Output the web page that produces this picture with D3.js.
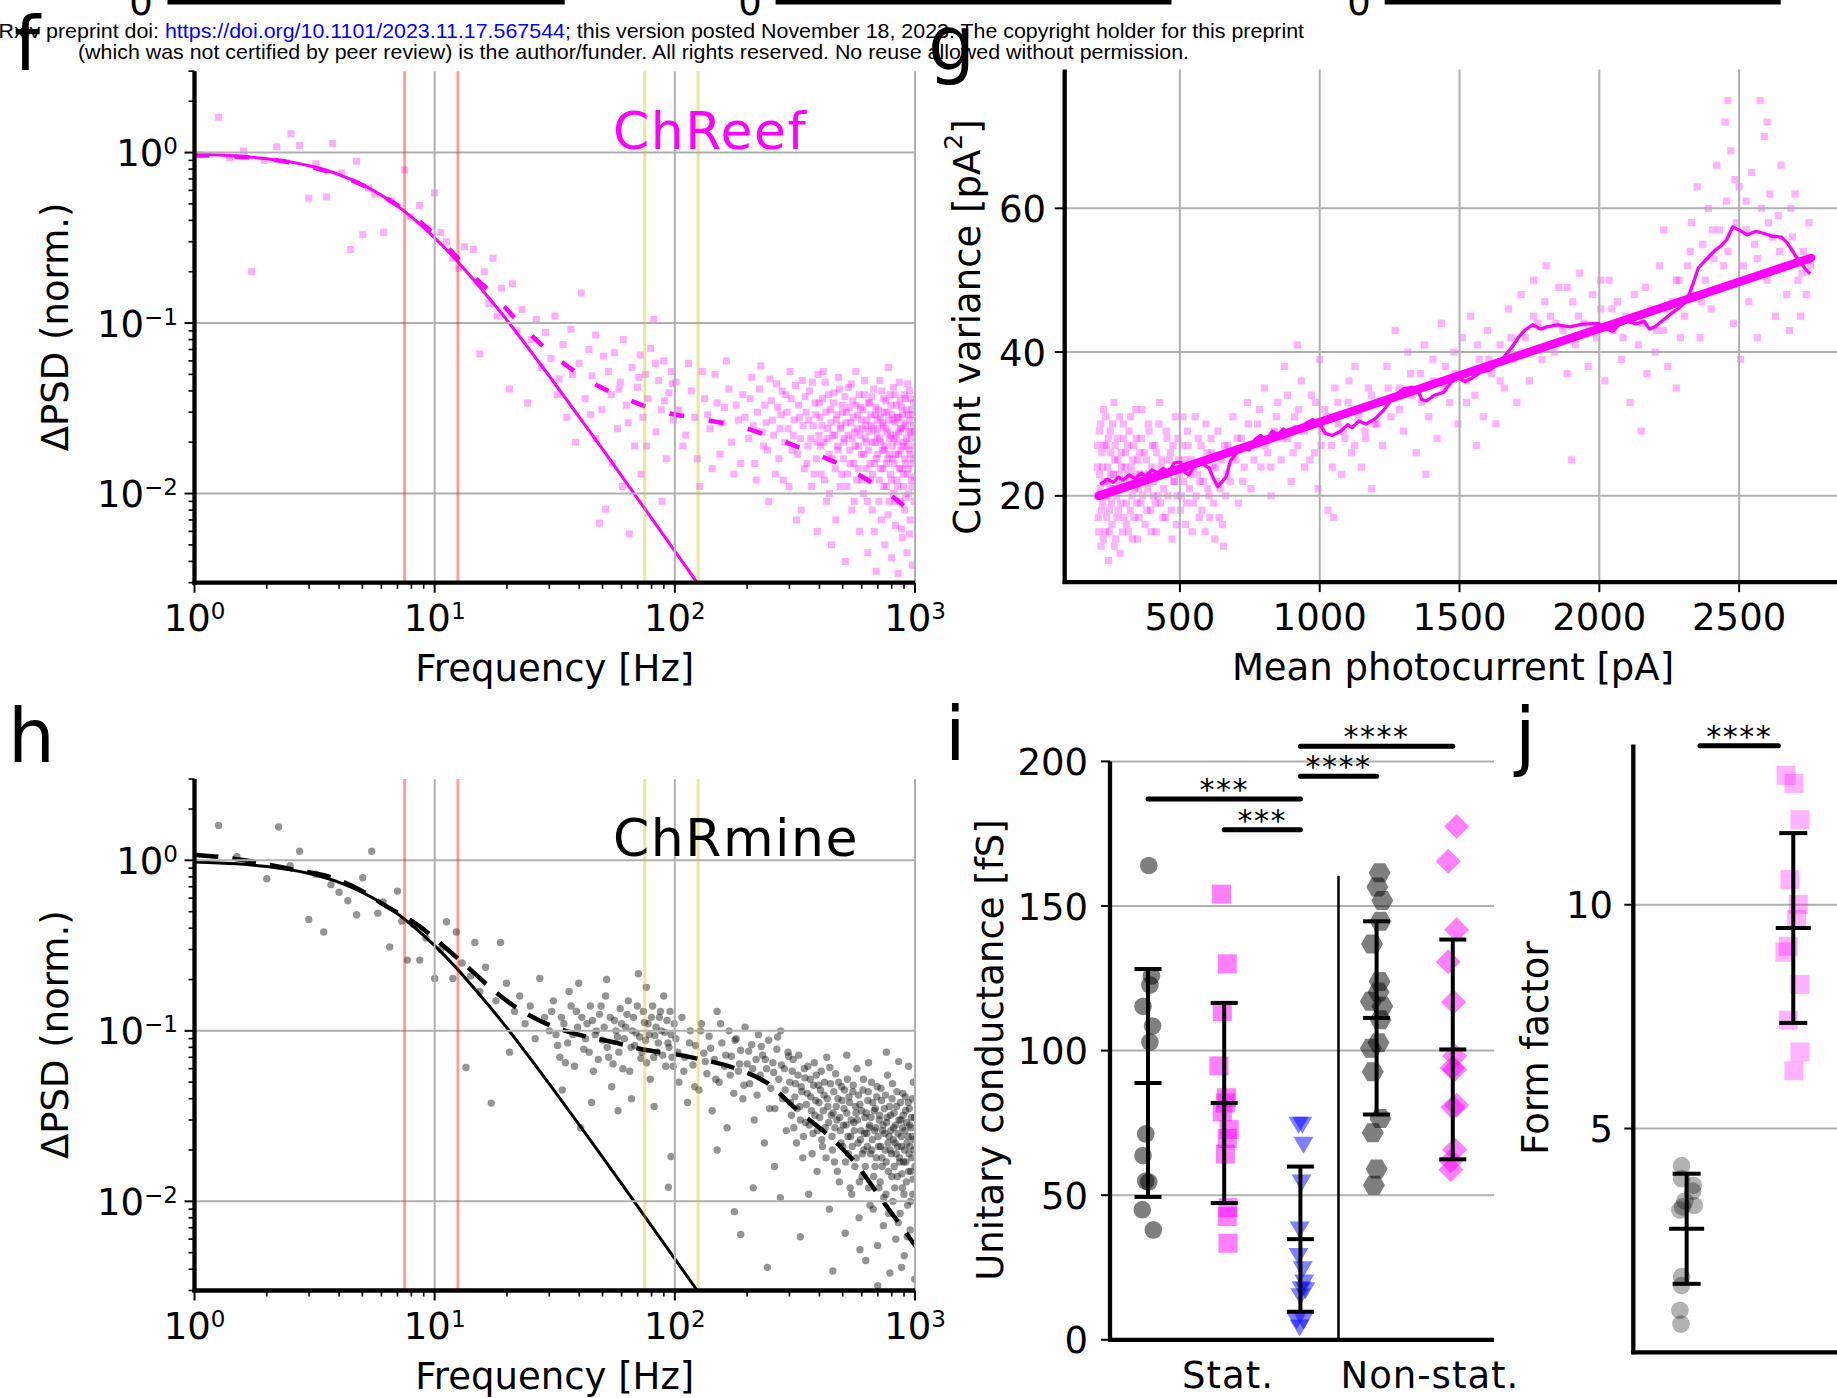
<!DOCTYPE html>
<html>
<head>
<meta charset="utf-8">
<title>Noise analysis f-j</title>
<style>
  body { margin: 0; background: #fff; }
  svg { font-family: "DejaVu Sans", sans-serif; }
  svg .hdr { font-family: "Liberation Sans", Arial, sans-serif; font-size: 21px; }
</style>
</head>
<body>
<script src="https://d3js.org/d3.v7.min.js"></script>
<script>

// ---------- data ----------
var headerPre = 'bioRxiv preprint doi: ';
var headerLink = 'https://doi.org/10.1101/2023.11.17.567544';
var headerPost = '; this version posted November 18, 2023. The copyright holder for this preprint';
var headerLine2 = '(which was not certified by peer review) is the author/funder. All rights reserved. No reuse allowed without permission.';

var freqDomain = [1, 1000];
var psdDomain = [0.003, 3];
var freqDecades = [1, 10, 100, 1000];
var psdDecades = [1, 0.1, 0.01];
var bandRed = [7.5, 12.5];
var bandYellow = [75, 125];

// panel f (ChReef)
var chreefFit = [[1,0.979],[1.5,0.954],[2,0.92],[3,0.837],[4,0.743],[5,0.649],[6,0.562],[7,0.486],[8,0.419],[10,0.316],[12,0.243],[15,0.17],[20,0.104],[25,0.0689],[30,0.0489],[40,0.0281],[50,0.0182],[70,0.00935],[100,0.0046],[125,0.00295]];
var chreefFit2 = [[1,0.965],[1.5,0.945],[2,0.915],[3,0.83],[4,0.735],[5,0.645],[7,0.49],[10,0.33],[12.5,0.24],[15,0.18],[17.2,0.151],[20,0.12],[23,0.097],[30,0.068],[40,0.05],[48.5,0.0425],[60,0.037],[86,0.0305],[125,0.0276],[200,0.024],[271,0.0207],[350,0.018],[482,0.0149],[600,0.0126],[750,0.0103],[880,0.0087],[1000,0.0073]];
var chreefPsdLow = [[1.05,0.97],[1.26,1.61],[1.4,0.93],[1.6,1.02],[1.73,0.2],[1.95,0.9],[2.2,1.08],[2.52,1.29],[2.74,1.1],[2.99,0.54],[3.2,0.86],[3.55,0.55],[3.76,1.13],[4.1,0.76],[4.47,0.27],[4.73,0.89],[5.02,0.33],[5.3,0.62],[5.63,0.57],[6.13,0.34],[6.6,0.52],[7.5,0.79],[7.9,0.42],[8.66,0.49],[9.3,0.36],[9.99,0.58],
[10.6,0.34],[11.2,0.3],[11.9,0.24],[12.6,0.21],[13.3,0.28],[14.5,0.27],[15.4,0.066],[16.1,0.2],[16.8,0.13],[17.5,0.24],[18.2,0.11],[19,0.16],[20.5,0.041],[21.1,0.17],[22,0.09],[23.1,0.12],[24.4,0.034],[25.3,0.08],[26.5,0.105],[27.8,0.055],[29,0.088],
[30.5,0.062],[31.7,0.11],[33,0.047],[34.2,0.075],[35.5,0.028],[36.9,0.092],[38.6,0.02],[39.9,0.058],[40.8,0.15],[42.3,0.036],[43.9,0.07],[45.2,0.049],[46.8,0.085],[48.5,0.0067],[49.7,0.031],[51.5,0.0081],[52.9,0.052],[54.4,0.038],[56,0.067],[57.7,0.024],[59.3,0.045],[61,0.08],[62.8,0.033],[64.7,0.0058],[66.3,0.055],[68,0.019],[69.9,0.042],[71.7,0.065],[73.6,0.028],[75.4,0.05],[77.2,0.036],[79.3,0.071],[81.7,0.105],[83.5,0.023],[85.6,0.046],[87.8,0.031],[89.9,0.06],[92.1,0.016],[94.5,0.039],[96.7,0.052],[98.8,0.027],[60.5,0.011],[72.3,0.013],[88.4,0.009],[55,0.015],[47,0.021],
[32.4,0.038],[37.5,0.05],[44.6,0.029],[50.4,0.064],[58.5,0.041],[63.9,0.026],[70.8,0.048],[76.3,0.019],[82.9,0.058],[90.7,0.035],[97.6,0.044]];
var chreefPsdHigh = [[101,0.045],[108,0.019],[114,0.058],[121,0.028],[127,0.011],[133,0.036],[140,0.024],[147,0.05],[154,0.017],[161,0.032],[168,0.041],[176,0.013],[184,0.027],[192,0.038],
[203,0.021],[209,0.048],[215,0.015],[221,0.03],[228,0.056],[234,0.019],[240,0.026],[246,0.009],[252,0.035],[258,0.022],[265,0.044],[271,0.016],[277,0.029],[283,0.012],[290,0.038],[296,0.024],[302,0.052],[308,0.018],[314,0.027],[321,0.007],[327,0.033],[333,0.021],[339,0.046],[346,0.014],[352,0.03],[358,0.019],[364,0.04],[371,0.011],[377,0.025],[383,0.034],[389,0.016],[395,0.05],[398,0.022],[392,0.006],
[402,0.028],[407,0.013],[412,0.036],[418,0.02],[423,0.045],[428,0.009],[433,0.024],[439,0.017],[444,0.031],[449,0.005],[455,0.022],[460,0.039],[465,0.014],[471,0.027],[476,0.019],[481,0.048],[487,0.011],[492,0.025],[497,0.033],[503,0.016],[508,0.021],[513,0.004],[519,0.03],[524,0.013],[529,0.042],[535,0.018],[540,0.026],[545,0.008],[551,0.035],[556,0.015],[561,0.023],[567,0.052],[572,0.012],[577,0.029],[583,0.019],[588,0.006],[593,0.032],[599,0.017],[604,0.024],[609,0.01],[615,0.038],[620,0.021],[625,0.014],[631,0.027],[636,0.0045],[641,0.018],[647,0.034],[652,0.012],[657,0.025],[663,0.008],[668,0.02],[673,0.041],[679,0.015],[684,0.029],[689,0.0035],[695,0.022],
[700,0.017],[705,0.031],[710,0.012],[715,0.046],[720,0.02],[725,0.007],[730,0.026],[735,0.014],[740,0.036],[745,0.018],[750,0.005],[755,0.024],[760,0.011],[765,0.03],[770,0.016],[775,0.055],[780,0.009],[785,0.021],[790,0.013],[795,0.033],[800,0.0042],[805,0.019],[810,0.027],[815,0.01],[820,0.015],[825,0.038],[830,0.0065],[835,0.022],[840,0.012],[845,0.028],[850,0.0034],[855,0.017],[860,0.045],[865,0.009],[870,0.024],[875,0.014],[880,0.032],[885,0.0055],[890,0.019],[895,0.011],[900,0.026],[905,0.008],[910,0.036],[915,0.015],[920,0.021],[925,0.0045],[930,0.013],[935,0.029],[940,0.01],[945,0.018],[950,0.04],[955,0.007],[960,0.023],[965,0.012],[970,0.031],[975,0.0038],[980,0.016],[985,0.025],[990,0.009],[995,0.019],
[104,0.031],[111,0.022],[117,0.04],[124,0.016],[130,0.052],[137,0.029],[143,0.014],[150,0.034],[157,0.026],[164,0.06],[172,0.02],[180,0.033],[188,0.015],[196,0.028],[206,0.036],[212,0.025],[218,0.012],[225,0.041],[231,0.023],[237,0.033],[243,0.018],[249,0.047],[255,0.027],[262,0.013],[268,0.032],[274,0.024],[280,0.04],[287,0.02],[293,0.03],[299,0.011],[305,0.036],[311,0.022],[318,0.043],[324,0.017],[330,0.028],[336,0.008],[342,0.025],[349,0.037],[355,0.015],[361,0.027],[368,0.021],[374,0.045],[380,0.013],[386,0.029],[392,0.02],[399,0.034],
[404,0.019],[410,0.025],[415,0.052],[420,0.012],[426,0.03],[431,0.021],[436,0.038],[441,0.01],[447,0.026],[452,0.016],[457,0.034],[463,0.022],[468,0.007],[473,0.029],[479,0.018],[484,0.041],[489,0.024],[495,0.013],[500,0.03],[505,0.02],[511,0.037],[516,0.026],[521,0.011],[527,0.022],[532,0.032],[537,0.015],[543,0.044],[548,0.021],[553,0.028],[559,0.009],[564,0.019],[569,0.033],[575,0.024],[580,0.014],[585,0.038],[591,0.022],[596,0.027],[601,0.012],[607,0.031],[612,0.017],[617,0.046],[623,0.025],[628,0.02],[633,0.009],[639,0.034],[644,0.023],[649,0.015],[655,0.029],[660,0.037],[665,0.013],[671,0.024],[676,0.006],[681,0.02],[687,0.032],[692,0.016],[697,0.027],
[702,0.024],[707,0.009],[712,0.021],[717,0.028],[722,0.014],[727,0.04],[732,0.018],[737,0.025],[742,0.011],[747,0.03],[752,0.019],[757,0.035],[762,0.015],[767,0.023],[772,0.0075],[777,0.027],[782,0.017],[787,0.038],[792,0.022],[797,0.012],[802,0.029],[807,0.016],[812,0.042],[817,0.021],[822,0.009],[827,0.026],[832,0.017],[837,0.033],[842,0.02],[847,0.011],[852,0.028],[857,0.023],[862,0.014],[867,0.035],[872,0.018],[877,0.0062],[882,0.024],[887,0.029],[892,0.013],[897,0.02],[902,0.038],[907,0.016],[912,0.025],[917,0.0095],[922,0.031],[927,0.019],[932,0.044],[937,0.014],[942,0.023],[947,0.0058],[952,0.027],[957,0.017],[962,0.036],[967,0.021],[972,0.011],[977,0.029],[982,0.015],[987,0.034],[992,0.0125],[997,0.023]];

// panel h (ChRmine)
var chrmineFit = [[1,0.979],[1.5,0.954],[2,0.92],[3,0.837],[4,0.743],[5,0.649],[6,0.562],[7,0.486],[8,0.419],[10,0.316],[12,0.243],[15,0.17],[20,0.104],[25,0.0689],[30,0.0489],[40,0.0281],[50,0.0182],[70,0.00935],[100,0.0046],[125,0.00295]];
var chrmineFit2 = [[1,1.08],[1.4,1.03],[1.83,0.97],[2.5,0.89],[3.76,0.79],[5,0.66],[6.13,0.55],[8.66,0.41],[11,0.31],[13.7,0.237],[17,0.18],[20.5,0.146],[27.3,0.115],[38.6,0.096],[55,0.086],[75,0.0775],[100,0.073],[125,0.0686],[180,0.06],[243,0.0493],[322,0.0345],[400,0.027],[482,0.0214],[580,0.016],[680,0.0117],[800,0.0085],[900,0.0068],[1000,0.0055]];
var chrminePsdLow = [[1.26,1.6],[1.5,1.05],[1.7,0.97],[2.0,0.78],[2.24,1.57],[2.5,0.93],[2.74,1.13],[2.99,0.45],[3.2,0.83],[3.45,0.38],[3.7,0.72],[4.0,0.65],[4.35,0.58],[4.73,0.48],[5.02,0.79],[5.47,1.13],[5.8,0.49],[6.1,0.57],[6.5,0.31],[7.0,0.66],[7.3,0.44],[7.7,0.26],[8.17,0.42],[8.67,0.26],[9.2,0.35],[10,0.203],[10.6,0.3],[11.2,0.436],[11.9,0.203],[12.3,0.38],[13.0,0.25],[13.5,0.061],[14.1,0.21],[14.7,0.33],[15.4,0.17],[16.3,0.236],[17.2,0.0377],[18,0.15],[18.8,0.33],[19.9,0.19],[20.5,0.075],[21.5,0.13],[22.6,0.16],[23.8,0.11],[25,0.14],[26.2,0.09],[27.4,0.203],[28.7,0.12],
[30,0.1],[31.2,0.15],[32.5,0.082],[33.7,0.12],[35,0.065],[36.3,0.17],[37.6,0.095],[38.9,0.13],[39.8,0.19],[40.5,0.027],[41.8,0.078],[43.1,0.11],[44.5,0.14],[45.8,0.058],[47.2,0.1],[48.6,0.125],[50,0.088],[51.5,0.16],[53,0.07],[54.6,0.047],[56.1,0.115],[57.7,0.092],[59.2,0.135],[60.8,0.06],[62.4,0.105],[64,0.15],[65.7,0.08],[67.3,0.12],[69,0.097],[70.5,0.216],[72.2,0.069],[73.9,0.13],[75.6,0.088],[77.3,0.11],[79,0.052],[80.8,0.14],[82.6,0.094],[84.4,0.075],[86.2,0.12],[88,0.1],[89.9,0.16],[91.7,0.062],[93.6,0.085],[94,0.0121],[95.5,0.13],[96.4,0.0183],[97.4,0.07],[99.3,0.11],[34,0.045],[45,0.038],[58,0.034],[66,0.04],[82,0.036],[52,0.2],[76,0.18],
[30.7,0.13],[32,0.095],[33.2,0.07],[34.5,0.11],[35.8,0.085],[37,0.14],[38.2,0.062],[39.4,0.105],[41,0.12],[42.5,0.09],[44,0.075],[45.4,0.115],[46.6,0.095],[48,0.068],[49.3,0.14],[50.8,0.105],[52.3,0.08],[53.8,0.12],[55.3,0.064],[56.9,0.1],[58.5,0.075],[60,0.11],[61.6,0.09],[63.2,0.125],[64.9,0.058],[66.5,0.1],[68.1,0.082],[69.8,0.14],[71.4,0.092],[73,0.075],[74.7,0.112],[76.4,0.065],[78.2,0.095],[79.9,0.12],[81.7,0.07],[83.5,0.105],[85.3,0.085],[87.1,0.13],[89,0.072],[90.8,0.098],[92.7,0.115],[94.6,0.08],[96.5,0.095],[98.4,0.062]];
var chrminePsdHigh = [[101,0.09],[104,0.05],[107,0.12],[110,0.07],[113,0.038],[116,0.1],[119,0.063],[122,0.082],[126,0.045],[129,0.11],[132,0.074],[136,0.056],[139,0.093],[143,0.034],[146,0.068],[150,0.13],[153,0.05],[157,0.085],[161,0.062],[165,0.027],[168,0.1],[172,0.071],[176,0.043],[177,0.0087],[180,0.09],[184,0.058],[188,0.0064],[188,0.077],[192,0.04],[196,0.105],[200,0.064],[205,0.049],[209,0.083],[214,0.03],[218,0.068],[223,0.095],[227,0.055],[232,0.072],[236,0.022],[241,0.06],[243,0.0041],[246,0.088],[251,0.046],[256,0.065],[261,0.035],[266,0.078],[271,0.052],[276,0.1],[281,0.04],[286,0.06],[291,0.026],[296,0.075],[212,0.012],[260,0.016],[150,0.02],[275,0.0105],
[103,0.075],[109,0.058],[115,0.085],[121,0.047],[128,0.1],[134,0.066],[141,0.079],[148,0.052],[155,0.11],[163,0.072],[170,0.055],[178,0.088],[186,0.064],[194,0.048],[203,0.076],[211,0.06],[220,0.042],[229,0.081],[238,0.068],[248,0.035],[258,0.057],[268,0.092],[278,0.063],[288,0.045],[298,0.071],
[301,0.05],[306,0.032],[311,0.068],[316,0.041],[321,0.022],[326,0.055],[331,0.036],[336,0.047],[341,0.018],[346,0.06],[351,0.029],[356,0.043],[361,0.011],[366,0.052],[371,0.034],[376,0.025],[381,0.065],[386,0.039],[391,0.015],[396,0.048],[401,0.031],[407,0.058],[412,0.021],[418,0.042],[423,0.027],[429,0.07],[434,0.036],[440,0.009],[445,0.049],[451,0.024],[456,0.033],[462,0.017],[467,0.056],[473,0.03],[478,0.04],[484,0.013],[489,0.026],[495,0.047],[500,0.021],[506,0.035],[512,0.0065],[517,0.028],[523,0.052],[528,0.019],[534,0.038],[540,0.024],[545,0.011],[551,0.044],[556,0.029],[562,0.016],[568,0.033],[573,0.06],[579,0.022],[585,0.008],[590,0.037],[596,0.026],[602,0.014],[607,0.045],[613,0.02],[619,0.031],[624,0.0045],[630,0.025],[636,0.039],[641,0.012],[647,0.028],[653,0.019],[659,0.05],[664,0.023],[670,0.009],[676,0.034],[682,0.016],[687,0.027],[693,0.041],[699,0.0055],[705,0.021],[710,0.03],[716,0.013],[722,0.046],[728,0.018],[733,0.026],[739,0.0072],[745,0.035],[751,0.02],[757,0.011],[762,0.029],[768,0.055],[774,0.015],[780,0.024],[786,0.0038],[791,0.032],[797,0.019],[803,0.04],[809,0.01],[815,0.027],[820,0.016],[826,0.022],[832,0.006],[838,0.036],[844,0.014],[850,0.025],[855,0.066],[861,0.018],[867,0.0085],[873,0.03],[879,0.021],[885,0.012],[890,0.043],[896,0.017],[902,0.0048],[908,0.026],[914,0.034],[920,0.013],[926,0.022],[932,0.0095],[938,0.038],[944,0.019],[950,0.028],[955,0.0068],[961,0.015],[967,0.031],[973,0.024],[979,0.011],[985,0.05],[991,0.02],[997,0.0035],[333,0.0062],[455,0.0039],[590,0.0052],[700,0.0032],[880,0.0041],[520,0.072],[640,0.065],[760,0.075],[940,0.062],
[303,0.038],[308,0.058],[313,0.027],[318,0.049],[323,0.035],[328,0.072],[333,0.03],[338,0.044],[343,0.024],[348,0.053],[353,0.037],[358,0.062],[363,0.028],[368,0.041],[373,0.019],[378,0.048],[383,0.032],[388,0.055],[393,0.026],[398,0.038],[404,0.045],[409,0.023],[415,0.034],[420,0.05],[426,0.018],[431,0.04],[437,0.029],[442,0.061],[448,0.032],[453,0.02],[459,0.044],[464,0.027],[470,0.036],[475,0.015],[481,0.05],[486,0.031],[492,0.022],[497,0.039],[503,0.028],[509,0.045],[514,0.017],[520,0.033],[526,0.024],[531,0.041],[537,0.012],[542,0.03],[548,0.021],[553,0.048],[559,0.026],[565,0.036],[570,0.018],[576,0.03],[582,0.042],[587,0.013],[593,0.023],[599,0.034],[604,0.019],[610,0.052],[616,0.025],[621,0.016],[627,0.033],[633,0.021],[639,0.044],[644,0.027],[650,0.0095],[656,0.031],[661,0.02],[667,0.038],[673,0.014],[679,0.026],[684,0.035],[690,0.018],[696,0.047],[702,0.024],[707,0.012],[713,0.032],[719,0.021],[725,0.039],[730,0.016],[736,0.028],[742,0.0105],[748,0.025],[754,0.042],[759,0.017],[765,0.031],[771,0.022],[777,0.0085],[783,0.036],[788,0.02],[794,0.026],[800,0.014],[806,0.049],[812,0.023],[818,0.033],[823,0.012],[829,0.028],[835,0.019],[841,0.044],[847,0.021],[852,0.0075],[858,0.03],[864,0.017],[870,0.038],[876,0.024],[882,0.0145],[887,0.027],[893,0.032],[899,0.011],[905,0.02],[911,0.041],[917,0.017],[923,0.029],[929,0.0062],[935,0.024],[941,0.015],[947,0.035],[953,0.021],[958,0.01],[964,0.027],[970,0.018],[976,0.04],[982,0.0135],[988,0.023],[994,0.031],[999,0.016]];

// panel g (mean photocurrent vs variance)
var varTicksX = [500, 1000, 1500, 2000, 2500];
var varTicksY = [20, 40, 60];
var varFit = [[210, 20.0], [2757, 53.1]];
var varRolling = [[215,21.6],[240,22.3],[262,21.9],[280,22.6],[297,22.2],[318,22.9],[340,22.4],[360,23.1],[379,22.8],[400,23.6],[420,23.2],[440,23.8],[461,23.3],[480,24.6],[502,24.7],[518,23.3],[533,22.9],[552,24.3],[574,25.0],[590,24.2],[604,23.9],[620,22.4],[635,21.3],[650,21.9],[666,22.7],[680,24.8],[696,25.6],[720,26.8],[748,26.4],[770,27.9],[789,28.4],[810,27.6],[830,29.0],[850,28.5],[870,29.3],[890,28.7],[910,29.6],[930,29.2],[952,30.1],[975,30.6],[1003,29.8],[1020,28.7],[1044,28.4],[1075,29.0],[1100,29.9],[1116,29.5],[1140,30.4],[1165,30.0],[1198,30.7],[1230,32.0],[1259,33.5],[1280,34.3],[1300,34.9],[1330,35.1],[1351,34.7],[1365,33.4],[1382,33.2],[1410,34.0],[1443,34.4],[1470,35.8],[1495,36.4],[1520,35.9],[1546,36.4],[1575,37.2],[1607,37.5],[1640,38.4],[1669,39.8],[1690,40.8],[1710,42.0],[1735,43.1],[1761,43.8],[1790,43.2],[1812,43.5],[1850,43.8],[1894,43.5],[1940,43.9],[1996,44.0],[2020,43.3],[2047,42.9],[2070,43.8],[2099,44.3],[2130,43.9],[2160,44.3],[2180,43.2],[2201,43.6],[2230,44.5],[2262,45.5],[2290,46.3],[2313,47.2],[2335,49.5],[2354,51.7],[2375,52.6],[2395,53.4],[2415,54.2],[2436,54.8],[2455,55.6],[2477,57.4],[2500,57.0],[2528,56.3],[2560,56.8],[2590,56.5],[2620,56.1],[2651,56.0],[2672,55.2],[2692,54.0],[2708,53.0],[2723,52.3],[2740,51.4],[2754,50.9]];
var varPointsLow = [[205,24],[208,17],[212,29],[215,21],[218,13],[221,26],[224,19],[227,32],[230,22],[233,15],[236,27],[239,20],[242,24],[245,11],[248,18],[251,29],[254,23],[257,16],[260,21],[264,33],[267,25],[270,14],[273,20],[276,28],[280,18],[283,23],[286,12],[290,26],[293,21],[297,30],[300,17],[304,24],[308,19],[312,27],[316,15],[320,22],[324,31],[328,20],[332,25],[336,17],[340,23],[344,28],[348,14],[352,21],[356,26],[360,19],[365,32],[370,23],[375,16],[380,25],[385,21],[390,29],[395,18],[400,24],[405,20],[410,27],[415,15],[420,23],[425,30],[430,19],[436,25],[442,21],[448,17],[454,28],[460,23],[466,26],[472,14],[478,22],[484,31],[490,20],[496,25],[502,18],[508,27],[514,22],[520,16],[527,29],[534,21],[541,25],[548,19],[555,31],[562,23],[569,17],[576,27],[583,22],[590,15],[597,26],[604,20],[611,28],[618,24],[625,14],[632,22],[640,17],[648,25],[656,13],[664,20],
[203,20],[206,27],[210,15],[213,23],[217,30],[220,18],[223,24],[226,14],[229,27],[232,20],[235,31],[238,17],[241,22],[244,28],[247,15],[250,21],[253,26],[256,19],[259,30],[262,23],[265,13],[268,27],[272,21],[275,17],[278,25],[282,22],[285,31],[288,19],[292,24],[295,15],[299,28],[302,21],[306,26],[310,16],[314,23],[318,29],[322,18],[326,24],[330,14],[334,27],[338,21],[342,32],[346,19],[350,25],[354,17],[358,23],[362,28],[367,20],[372,26],[377,22],[382,18],[387,30],[392,23],[397,15],[402,27],[407,22],[412,19],[417,26],[422,20],[428,33],[433,24],[439,17],[445,23],[451,29],[457,20],[463,25],[469,18],[475,27],[481,22],[487,16],[493,28],[499,23],[505,20],[511,31],[517,25],[523,19],[530,27],[537,23],[544,15],[551,24],[558,20],[565,28],[572,22],[579,18],[586,25],[593,30],[600,21],[607,17],[614,26],[621,19],[628,24],[636,29],[644,21],[652,16],[660,27],[668,23]];
var varPointsHigh = [[672,27],[680,22],[690,31],[700,25],[710,19],[720,28],[730,24],[742,33],[754,21],[766,27],[778,30],[790,24],[802,35],[814,26],[826,20],[838,29],[850,33],[862,25],[874,38],[886,28],[898,22],[910,31],[922,27],[934,36],[946,24],[958,30],[970,34],[982,26],[994,21],[1006,29],[1018,32],[1030,18],[1042,27],[1054,35],[1066,30],[1078,23],[1090,28],[1102,33],[1114,26],[1126,38],[1138,31],[1150,24],[1162,29],[1174,35],[1186,21],[1198,30],[1050,17],[920,41],[1000,39],
[1210,33],[1225,27],[1240,38],[1255,31],[1270,43],[1285,35],[1300,29],[1315,40],[1330,34],[1345,26],[1360,37],[1375,41],[1390,31],[1405,36],[1420,28],[1435,44],[1450,38],[1465,33],[1480,40],[1495,30],[1510,42],[1525,36],[1540,45],[1555,34],[1570,39],[1585,31],[1600,43],[1615,37],[1630,30],[1645,41],[1660,35],[1675,46],[1690,39],[1705,33],[1720,48],[1735,42],[1750,36],[1765,50],[1780,44],[1795,39],[1380,23],[1560,27],
[1810,52],[1825,45],[1840,40],[1855,49],[1870,43],[1885,37],[1900,25],[1905,47],[1915,41],[1930,51],[1945,44],[1960,38],[1975,48],[1990,42],[2005,46],[2020,36],[2035,50],[2050,43],[2065,47],[2080,39],[2095,45],[2110,33],[2125,48],[2140,41],[2150,29],[2155,44],[2170,37],[2185,46],[2200,40],[2215,52],[2230,43],[2245,38],[2260,47],[2275,35],[2290,42],[2230,57],[2275,50],
[2305,45],[2315,52],[2330,58],[2340,48],[2350,63],[2360,42],[2370,55],[2380,50],[2390,60],[2400,46],[2410,53],[2420,66],[2430,57],[2440,49],[2450,72],[2455,61],[2460,54],[2470,68],[2480,44],[2490,58],[2500,63],[2505,39],[2515,52],[2525,57],[2535,47],[2545,65],[2555,55],[2565,42],[2575,75],[2580,60],[2590,70],[2600,50],[2610,62],[2620,56],[2630,45],[2640,59],[2650,66],[2660,52],[2670,48],[2680,43],[2690,56],[2700,62],[2710,50],[2720,45],[2730,54],[2740,48],[2750,58],[2755,52],[2600,72],[2460,75],
[705,28],[725,22],[745,30],[765,25],[785,32],[805,27],[825,24],[845,31],[865,28],[885,34],[905,26],[925,32],[945,29],[965,25],[985,33],[1005,27],[1025,31],[1045,24],[1065,33],[1085,29],[1105,36],[1125,27],[1145,32],[1165,28],[1185,34],[1205,30],[1245,35],[1285,32],[1325,37],[1365,33],[1405,39],[1445,35],[1485,37],[1525,33],[1565,41],[1605,39],[1645,36],[1685,42],[1725,40],[1765,45],[1805,47],[1845,44],[1885,49],[1925,45],[1965,43],[2005,50],[2045,46],[2085,42],[2125,45],[2165,49],[2205,43],[2245,46],[2285,50],[2325,54],[2365,47],[2405,57],[2445,52],[2485,64],[2525,61],[2565,53],[2605,58],[2645,54],[2685,60],[2725,51]];

// panel i (unitary conductance), points are [x in group units, fS]
var condTicks = [0, 50, 100, 150, 200];
var condGroupLabels = ['Stat.', 'Non-stat.'];
var condStatMine = [[0.01,164.0],[0.045,125.8],[0.025,122.7],[-0.065,115.3],[0.06,108.5],[0.025,103.0],[-0.03,71.2],[-0.065,63.7],[-0.03,54.9],[0.01,54.6],[-0.075,45.0],[0.07,38.0]];
var condStatReef = [[0.965,154.1],[1.04,130.0],[0.975,113.5],[0.93,94.7],[1.03,83.7],[1.015,81.9],[0.975,78.8],[1.065,72.7],[1.04,69.6],[1.015,64.2],[1.05,45.7],[1.04,42.6],[1.05,33.4]];
var condStatBlue = [[1.975,74.2],[2.025,74.2],[2.04,67.3],[2.015,54.2],[1.99,38.0],[1.975,28.8],[2.03,24.2],[2.05,19.6],[2.015,17.3],[2.0,14.9],[2.065,17.0],[1.95,6.5],[2.04,6.5],[1.99,4.1]];
var condNonMine = [[3.04,161.5],[3.01,156.6],[3.075,151.9],[3.05,144.7],[2.94,136.9],[3.04,123.9],[2.925,117.1],[3.025,120.3],[3.075,115.3],[3.05,110.7],[3.025,102.7],[2.925,100.8],[2.95,92.7],[3.05,76.5],[2.95,71.6],[3.0,59.1],[2.965,53.4]];
var condNonReef = [[4.05,177.5],[3.94,165.5],[4.05,141.8],[3.94,130.7],[4.01,116.8],[4.025,98.1],[4.025,93.5],[3.99,94.0],[4.05,81.1],[4.0,80.4],[4.025,65.7],[3.975,61.9],[3.975,58.8]];
var condMean = [88.8, 81.9, 34.8, 111.3, 100.4];
var condSd = [39.4, 34.6, 25.1, 33.4, 38.0];
var condSig = [[0, 2, 187.0, '***'], [1, 2, 176.4, '***'], [2, 3, 194.9, '****'], [2, 4, 205.2, '****']];

// panel j (form factor)
var formTicks = [5, 10];
var formMine = [[-0.047,4.17],[-0.047,3.88],[0.062,3.73],[0.056,3.6],[-0.016,3.38],[0.071,3.28],[-0.063,3.18],[-0.038,3.25],[-0.047,1.69],[-0.047,1.49],[-0.063,0.94],[-0.053,0.63]];
var formReef = [[0.932,12.89],[1.006,12.71],[1.063,11.9],[0.969,10.56],[1.047,10.01],[1.031,9.67],[0.953,9.07],[0.922,8.94],[1.063,8.22],[0.953,7.42],[1.063,6.71],[1.006,6.29]];
var formMean = [2.76, 9.48];
var formSd = [1.23, 2.12];
var formSig = [[0.125, 0.86, 13.55, '****']];

// ---------- drawing ----------
var W = 1837, H = 1398;
var MAG = '#ff00ff', GRID = '#b0b0b0';
var svg = d3.select('body').append('svg').attr('width', W).attr('height', H).style('display', 'block');
svg.append('rect').attr('width', W).attr('height', H).attr('fill', '#fff');
var defs = svg.append('defs');

function powLabel(sel, k) {
    sel.append('tspan').text('10');
    sel.append('tspan').attr('dy', -12).attr('font-size', 23).text(k < 0 ? '\u2212' + (-k) : String(k));
}
function isDecade(d) {
    var l = Math.log10(d);
    return Math.abs(l - Math.round(l)) < 1e-9;
}
function hline(g, x1, x2, y, col, w) {
    return g.append('line').attr('x1', x1).attr('x2', x2).attr('y1', y).attr('y2', y)
        .attr('stroke', col).attr('stroke-width', w);
}
function vline(g, x, y1, y2, col, w) {
    return g.append('line').attr('x1', x).attr('x2', x).attr('y1', y1).attr('y2', y2)
        .attr('stroke', col).attr('stroke-width', w);
}
function rotLabel(txt, cx, cy) {
    return svg.append('text').attr('transform', 'translate(' + cx + ',' + cy + ') rotate(-90)')
        .attr('text-anchor', 'middle').attr('dominant-baseline', 'central')
        .attr('font-size', 37).text(txt);
}

// remnants of the row above (cut off at the top edge)
[141, 750, 1359].forEach(function (cx) {
    svg.append('text').attr('x', cx).attr('y', 15).attr('text-anchor', 'middle').attr('font-size', 37).text('0');
});
[[167.5, 564.7], [775.6, 1171.5], [1384.7, 1780.7]].forEach(function (b) {
    svg.append('rect').attr('x', b[0]).attr('y', 0).attr('width', b[1] - b[0]).attr('height', 4.5).attr('fill', '#000');
});

// preprint header
var h1 = svg.append('text').attr('class', 'hdr').attr('x', -30).attr('y', 37.5)
    .attr('textLength', 1334).attr('lengthAdjust', 'spacingAndGlyphs');
h1.append('tspan').text(headerPre);
h1.append('tspan').style('fill', '#0000ff').text(headerLink);
h1.append('tspan').text(headerPost);
svg.append('text').attr('class', 'hdr').attr('x', 78).attr('y', 58.5)
    .attr('textLength', 1111).attr('lengthAdjust', 'spacingAndGlyphs').text(headerLine2);

// ----- PSD panels (f, h) -----
function psdPanel(o) {
    var left = 194.5, right = 915, top = o.bottom - 511.5, bottom = o.bottom;
    var x = d3.scaleLog().domain(freqDomain).range([left, right]);
    var y = d3.scaleLog().domain(psdDomain).range([bottom, top]);
    defs.append('clipPath').attr('id', o.id).append('rect')
        .attr('x', left).attr('y', top).attr('width', right - left + 1).attr('height', bottom - top);
    var g = svg.append('g');
    var plot = g.append('g').attr('clip-path', 'url(#' + o.id + ')');

    if (o.marker === 'square') {
        plot.append('g').selectAll('rect').data(o.points).join('rect')
            .attr('x', function (d) { return x(d[0]) - 3.5; })
            .attr('y', function (d) { return y(d[1]) - 3.5; })
            .attr('width', 7).attr('height', 7)
            .attr('fill', o.color).attr('fill-opacity', 0.32);
    } else {
        plot.append('g').selectAll('circle').data(o.points).join('circle')
            .attr('cx', function (d) { return x(d[0]); })
            .attr('cy', function (d) { return y(d[1]); })
            .attr('r', 3.7).attr('fill', o.color).attr('fill-opacity', 0.42);
    }

    freqDecades.forEach(function (d) { vline(g, x(d), top, bottom, GRID, 2); });
    psdDecades.forEach(function (d) { hline(g, left, right, y(d), GRID, 2); });
    bandRed.forEach(function (d) { vline(g, x(d), top, bottom, '#ff0000', 3).attr('stroke-opacity', 0.38); });
    bandYellow.forEach(function (d) { vline(g, x(d), top, bottom, '#bfbf00', 3).attr('stroke-opacity', 0.38); });

    var line = d3.line().x(function (d) { return x(d[0]); }).y(function (d) { return y(d[1]); })
        .curve(d3.curveMonotoneX);
    plot.append('path').attr('d', line(o.fit)).attr('fill', 'none')
        .attr('stroke', o.color).attr('stroke-width', 3);
    plot.append('path').attr('d', line(o.fit2)).attr('fill', 'none')
        .attr('stroke', o.color).attr('stroke-width', 4.5).attr('stroke-dasharray', o.dash);

    // ticks
    x.ticks().forEach(function (d) {
        var maj = isDecade(d);
        vline(g, x(d), bottom, bottom + (maj ? 10 : 6), '#000', maj ? 2 : 1.6);
        if (maj) {
            var t = g.append('text').attr('x', x(d)).attr('y', bottom + 48)
                .attr('text-anchor', 'middle').attr('font-size', 37);
            powLabel(t, Math.round(Math.log10(d)));
        }
    });
    y.ticks().forEach(function (d) {
        var maj = isDecade(d);
        hline(g, left - (maj ? 10 : 6), left, y(d), '#000', maj ? 2 : 1.6);
        if (maj) {
            var t = g.append('text').attr('x', 178).attr('y', y(d) + 13.5)
                .attr('text-anchor', 'end').attr('font-size', 37);
            powLabel(t, Math.round(Math.log10(d)));
        }
    });
    vline(g, left, top, bottom + 2, '#000', 4.3);
    hline(g, left - 2, right, bottom, '#000', 4.3);

    g.append('text').attr('x', (left + right) / 2).attr('y', bottom + 98)
        .attr('text-anchor', 'middle').attr('font-size', 37).text('Frequency [Hz]');
    rotLabel('\u0394PSD (norm.)', 55, (top + bottom) / 2);
    g.append('text').attr('x', 613).attr('y', top + o.nameDy).attr('font-size', 52)
        .attr('letter-spacing', 1.5).style('fill', o.color).text(o.name);
}

psdPanel({ id: 'clipF', bottom: 582.7, points: chreefPsdLow.concat(chreefPsdHigh), marker: 'square', color: MAG,
    fit: chreefFit, fit2: chreefFit2, dash: '15 25', name: 'ChReef', nameDy: 78 });
psdPanel({ id: 'clipH', bottom: 1290.5, points: chrminePsdLow.concat(chrminePsdHigh), marker: 'circle', color: '#000',
    fit: chrmineFit, fit2: chrmineFit2, dash: '24 14', name: 'ChRmine', nameDy: 77 });

// ----- panel g -----
(function () {
    var left = 1064.7, right = 1837, top = 69.6, bottom = 582.1;
    var x = d3.scaleLinear().domain([88, 2850]).range([left, right]);
    var y = d3.scaleLinear().domain([8, 79.3]).range([bottom, top]);
    var g = svg.append('g');
    g.append('g').selectAll('rect').data(varPointsLow.concat(varPointsHigh)).join('rect')
        .attr('x', function (d) { return x(d[0]) - 3.6; })
        .attr('y', function (d) { return y(d[1]) - 3.6; })
        .attr('width', 7.2).attr('height', 7.2)
        .attr('fill', MAG).attr('fill-opacity', 0.3);
    varTicksX.forEach(function (d) { vline(g, x(d), top, bottom, GRID, 2); });
    varTicksY.forEach(function (d) { hline(g, left, right, y(d), GRID, 2); });

    var line = d3.line().x(function (d) { return x(d[0]); }).y(function (d) { return y(d[1]); });
    g.append('path').attr('d', line(varRolling)).attr('fill', 'none')
        .attr('stroke', MAG).attr('stroke-width', 3.3).attr('stroke-linejoin', 'round');
    g.append('path').attr('d', line(varFit)).attr('fill', 'none')
        .attr('stroke', MAG).attr('stroke-width', 8.5).attr('stroke-linecap', 'round');

    varTicksX.forEach(function (d) {
        vline(g, x(d), bottom, bottom + 10, '#000', 2);
        g.append('text').attr('x', x(d)).attr('y', bottom + 47.5).attr('text-anchor', 'middle')
            .attr('font-size', 37).text(d);
    });
    varTicksY.forEach(function (d) {
        hline(g, left - 10, left, y(d), '#000', 2);
        g.append('text').attr('x', 1046).attr('y', y(d) + 13.5).attr('text-anchor', 'end')
            .attr('font-size', 37).text(d);
    });
    vline(g, left, top, bottom + 2, '#000', 4.3);
    hline(g, left - 2, right, bottom, '#000', 4.3);
    g.append('text').attr('x', 1453).attr('y', 680).attr('text-anchor', 'middle')
        .attr('font-size', 37).text('Mean photocurrent [pA]');
    var yl = rotLabel('', 967, 327);
    yl.append('tspan').text('Current variance [pA');
    yl.append('tspan').attr('dy', -14).attr('font-size', 25).text('2');
    yl.append('tspan').attr('dy', 14).text(']');
})();

// ----- marker paths -----
function markerPath(kind) {
    if (kind === 'circle') return d3.symbol(d3.symbolCircle, 245)();
    if (kind === 'square') return 'M-9.5,-9.5H9.5V9.5H-9.5Z';
    if (kind === 'tri') return 'M-10,-8.5L10,-8.5L0,8.5Z';
    if (kind === 'hex') return 'M-11,0L-5.5,-9.5L5.5,-9.5L11,0L5.5,9.5L-5.5,9.5Z';
    return 'M0,-12.5L12.5,0L0,12.5L-12.5,0Z';
}
function drawMarkers(g, pts, x, y, kind, col, alpha) {
    g.append('g').selectAll('path').data(pts).join('path')
        .attr('transform', function (d) { return 'translate(' + x(d[0]) + ',' + y(d[1]) + ')'; })
        .attr('d', markerPath(kind)).attr('fill', col).attr('fill-opacity', alpha);
}
function errBar(g, cx, y, m, s, capW, meanW) {
    vline(g, cx, y(m - s), y(m + s), '#000', 4);
    hline(g, cx - capW, cx + capW, y(m - s), '#000', 4);
    hline(g, cx - capW, cx + capW, y(m + s), '#000', 4);
    hline(g, cx - meanW, cx + meanW, y(m), '#000', 4);
}
function sigBar(g, x1, x2, yy, txt) {
    g.append('line').attr('x1', x1).attr('x2', x2).attr('y1', yy).attr('y2', yy)
        .attr('stroke', '#000').attr('stroke-width', 5).attr('stroke-linecap', 'round');
    g.append('text').attr('x', (x1 + x2) / 2).attr('y', yy + 1).attr('text-anchor', 'middle')
        .attr('font-size', 30).attr('letter-spacing', 1.5).text(txt);
}

// ----- panel i -----
(function () {
    var left = 1110, right = 1494, top = 761.4, bottom = 1339.8;
    var x = d3.scaleLinear().domain([-0.5, 4.55]).range([1109.9, 1494.7]);
    var y = d3.scaleLinear().domain([0, 200]).range([bottom, top]);
    var g = svg.append('g');
    condTicks.forEach(function (d) {
        if (d > 0) hline(g, left, right, y(d), GRID, 2);
        hline(g, left - 9, left, y(d), '#000', 2);
        g.append('text').attr('x', 1088).attr('y', y(d) + 13.5).attr('text-anchor', 'end')
            .attr('font-size', 37).text(d);
    });
    vline(g, x(2.5), y(160.5), bottom, '#000', 2.5);

    drawMarkers(g, condStatMine, x, y, 'circle', '#000', 0.5);
    drawMarkers(g, condStatReef, x, y, 'square', MAG, 0.5);
    drawMarkers(g, condStatBlue, x, y, 'tri', '#0000ff', 0.5);
    drawMarkers(g, condNonMine, x, y, 'hex', '#000', 0.5);
    drawMarkers(g, condNonReef, x, y, 'diamond', MAG, 0.5);

    condMean.forEach(function (m, i) { errBar(g, x(i), y, m, condSd[i], 13.5, 13.5); });
    condSig.forEach(function (s) { sigBar(g, x(s[0]), x(s[1]), y(s[2]), s[3]); });

    [1.05, 3.7].forEach(function (p, i) {
        g.append('text').attr('x', x(p)).attr('y', bottom + 48).attr('text-anchor', 'middle')
            .attr('font-size', 37).attr('letter-spacing', 1).text(condGroupLabels[i]);
    });
    vline(g, left, top, bottom + 2, '#000', 4.3);
    hline(g, left - 2, right, bottom, '#000', 4.3);
    rotLabel('Unitary conductance [fS]', 990, 1050);
})();

// ----- panel j -----
(function () {
    var left = 1633.3, right = 1837, top = 744.5, bottom = 1352.3;
    var x = d3.scaleLinear().domain([-0.5, 1.41]).range([left, right]);
    var y = d3.scaleLinear().domain([0, 13.58]).range([bottom, top]);
    var g = svg.append('g');
    formTicks.forEach(function (d) {
        hline(g, left, right, y(d), GRID, 2);
        hline(g, left - 9, left, y(d), '#000', 2);
        g.append('text').attr('x', 1613).attr('y', y(d) + 13.5).attr('text-anchor', 'end')
            .attr('font-size', 37).text(d);
    });
    drawMarkers(g, formMine, x, y, 'circle', '#000', 0.3);
    drawMarkers(g, formReef, x, y, 'square', MAG, 0.3);
    formMean.forEach(function (m, i) { errBar(g, x(i), y, m, formSd[i], 14, 17.5); });
    formSig.forEach(function (s) { sigBar(g, x(s[0]), x(s[1]), y(s[2]), s[3]); });
    vline(g, left, top, bottom + 2, '#000', 4.3);
    hline(g, left - 2, right, bottom, '#000', 4.3);
    rotLabel('Form factor', 1535, 1048);
})();

// panel letters
[['f', 14, 70], ['g', 928, 68.5], ['h', 8, 762], ['i', 945, 760], ['j', 1515, 761]].forEach(function (p) {
    svg.append('text').attr('x', p[1]).attr('y', p[2]).attr('font-size', 74).text(p[0]);
});
</script>
</body>
</html>
